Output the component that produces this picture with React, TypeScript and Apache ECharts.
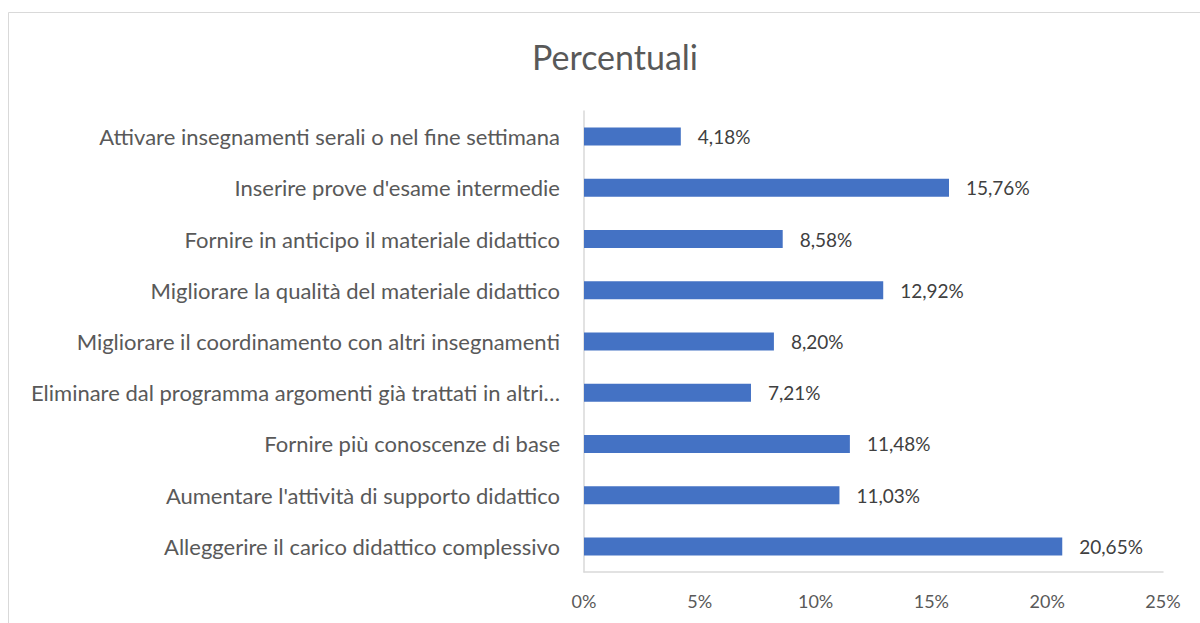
import React, { useEffect, useRef } from "react";
import * as echarts from "echarts";

const categories = [
  "Attivare insegnamenti serali o nel fine settimana",
  "Inserire prove d'esame intermedie",
  "Fornire in anticipo il materiale didattico",
  "Migliorare la qualità del materiale didattico",
  "Migliorare il coordinamento con altri insegnamenti",
  "Eliminare dal programma argomenti già trattati in altri…",
  "Fornire più conoscenze di base",
  "Aumentare l'attività di supporto didattico",
  "Alleggerire il carico didattico complessivo",
];
const values = [4.18, 15.76, 8.58, 12.92, 8.2, 7.21, 11.48, 11.03, 20.65];
const title = "Percentuali";

export default function App() {
  const ref = useRef<HTMLDivElement>(null);
  useEffect(() => {
    document.body.style.margin = "0";
    const chart = echarts.init(ref.current!, null, { renderer: "svg" });
    const font = "Lato, sans-serif";
    chart.setOption({
      animation: false,
      title: {
        text: title,
        left: 527,
        top: 34,
        textStyle: { fontFamily: font, fontSize: 34, fontWeight: "normal", color: "#595959" },
      },
      graphic: [
        {
          type: "rect",
          shape: { x: 8.5, y: 12.5, width: 1300, height: 800 },
          style: { fill: "none", stroke: "#d9d9d9", lineWidth: 1 },
          silent: true,
        },
      ],
      grid: { left: 584, right: 37, top: 111, bottom: 51, containLabel: false },
      xAxis: {
        type: "value",
        min: 0,
        max: 25,
        interval: 5,
        axisLine: { show: true, lineStyle: { color: "#d9d9d9", width: 1.5 } },
        axisTick: { show: false },
        splitLine: { show: false },
        axisLabel: {
          formatter: (v: number) => v + "%",
          color: "#595959",
          fontFamily: font,
          fontSize: 18,
          margin: 20,
        },
      },
      yAxis: {
        type: "category",
        data: categories,
        inverse: true,
        axisLine: { show: true, lineStyle: { color: "#d9d9d9", width: 1.5 } },
        axisTick: { show: false },
        axisLabel: {
          color: "#595959",
          fontFamily: font,
          fontSize: 22,
          margin: 24,
        },
      },
      series: [
        {
          type: "bar",
          data: values,
          barWidth: 18,
          itemStyle: { color: "#4472c4" },
          label: {
            show: true,
            position: "right",
            distance: 17,
            color: "#404040",
            fontFamily: font,
            fontSize: 19,
            formatter: (p: any) => p.value.toFixed(2).replace(".", ",") + "%",
          },
        },
      ],
    });
    return () => chart.dispose();
  }, []);
  return <div ref={ref} style={{ width: 1200, height: 623 }} />;
}
